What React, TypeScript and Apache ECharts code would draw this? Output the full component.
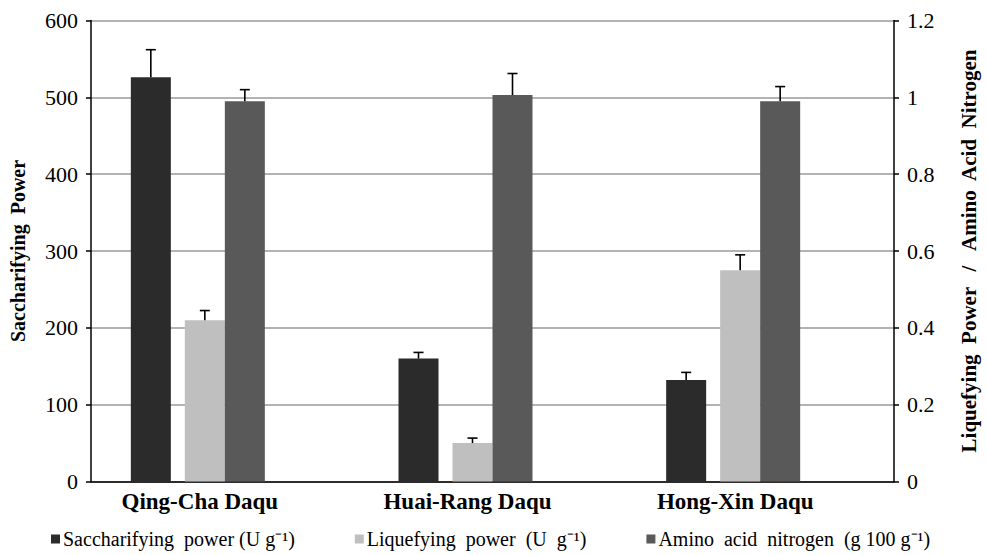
import React, { useEffect, useRef } from 'react';
import * as echarts from 'echarts';

const categories = ['Qing-Cha Daqu', 'Huai-Rang Daqu', 'Hong-Xin Daqu'];
const saccharifying = [526, 160, 132];
const saccharifyingErr = [36, 8, 10];
const liquefying = [0.42, 0.1, 0.55];
const liquefyingErr = [0.025, 0.013, 0.04];
const aminoN = [0.99, 1.006, 0.99];
const aminoNErr = [0.03, 0.056, 0.038];

const seriesNames = [
  'Saccharifying  power (U g⁻¹)',
  'Liquefying  power  (U  g⁻¹)',
  'Amino  acid  nitrogen  (g 100 g⁻¹)',
];

const FONT = 'Liberation Serif, serif';
const BAR_W = 40;
const GAP_PX = 108;
// horizontal offset of each bar centre from its category centre (px), derived from the bar layout
const OFF_SACCH = -(BAR_W / 2 + GAP_PX / 2);
const OFF_LIQ = -BAR_W / 2;
const OFF_AMINO = BAR_W / 2;

function errorSeries(values: number[], errs: number[], xi: number, yi: number, off: number) {
  return {
    type: 'custom',
    xAxisIndex: xi,
    yAxisIndex: yi,
    z: 5,
    silent: true,
    encode: { x: 0, y: 1 },
    data: values.map((v, i) => [i, v, errs[i]]),
    renderItem: (params: any, api: any) => {
      const i = api.value(0);
      const v = api.value(1);
      const e = api.value(2);
      const p0 = api.coord([i, v]);
      const p1 = api.coord([i, v + e]);
      const x = p0[0] + off;
      const style = { stroke: '#000', lineWidth: 1.6 };
      return {
        type: 'group',
        children: [
          { type: 'line', shape: { x1: x, y1: p0[1], x2: x, y2: p1[1] }, style },
          { type: 'line', shape: { x1: x - 5, y1: p1[1], x2: x + 5, y2: p1[1] }, style },
        ],
      };
    },
  };
}

export default function App() {
  const ref = useRef<HTMLDivElement>(null);
  useEffect(() => {
    document.body.style.margin = '0';
    if (!ref.current) return;
    const chart = echarts.init(ref.current, null, { renderer: 'svg' });
    const axisLine = { show: true, lineStyle: { color: '#000', width: 1.5 } };
    chart.setOption({
      animation: false,
      backgroundColor: '#fff',
      textStyle: { fontFamily: FONT, color: '#000' },
      grid: { left: 91, right: 78, top: 20.5, bottom: 73.5, containLabel: false },
      legend: {
        data: seriesNames,
        left: 46,
        top: 524,
        icon: 'rect',
        itemWidth: 9,
        itemHeight: 9,
        itemGap: 60,
        textStyle: { fontFamily: FONT, fontSize: 20, color: '#000', padding: [0, 0, 0, -2] },
      },
      xAxis: [
        {
          type: 'category',
          data: categories,
          axisLine,
          axisTick: { show: false },
          axisLabel: {
            fontFamily: FONT,
            fontSize: 23,
            fontWeight: 'bold',
            color: '#000',
            margin: 8,
            padding: [0, 50, 0, 0],
          },
        },
        { type: 'category', data: categories, show: false },
      ],
      yAxis: [
        {
          type: 'value',
          min: 0,
          max: 600,
          interval: 100,
          position: 'left',
          axisLine,
          axisTick: { show: true, length: 5, lineStyle: { color: '#000', width: 1.5 } },
          axisLabel: { fontFamily: FONT, fontSize: 22, color: '#000', margin: 13 },
          splitLine: { show: true, lineStyle: { color: '#9a9a9a', width: 1.5 } },
          name: 'Saccharifying  Power',
          nameLocation: 'middle',
          nameRotate: 90,
          nameGap: 63,
          nameTextStyle: { fontFamily: FONT, fontSize: 20, fontWeight: 'bold', color: '#000' },
        },
        {
          type: 'value',
          min: 0,
          max: 1.2,
          interval: 0.2,
          position: 'right',
          axisLine,
          axisTick: { show: true, length: 5, lineStyle: { color: '#000', width: 1.5 } },
          axisLabel: { fontFamily: FONT, fontSize: 22, color: '#000', margin: 13 },
          splitLine: { show: false },
          name: 'Liquefying  Power   /   Amino  Acid  Nitrogen',
          nameLocation: 'middle',
          nameRotate: 90,
          nameGap: 64,
          nameTextStyle: { fontFamily: FONT, fontSize: 21, fontWeight: 'bold', color: '#000' },
        },
      ],
      series: [
        {
          name: seriesNames[0],
          type: 'bar',
          xAxisIndex: 0,
          yAxisIndex: 0,
          barWidth: BAR_W,
          barGap: (GAP_PX / BAR_W) * 100 + '%',
          data: saccharifying,
          itemStyle: { color: '#2b2b2b' },
        },
        {
          name: 'spacer',
          type: 'bar',
          xAxisIndex: 0,
          yAxisIndex: 0,
          barWidth: BAR_W,
          data: categories.map(() => null),
          itemStyle: { color: 'transparent' },
        },
        {
          name: seriesNames[1],
          type: 'bar',
          xAxisIndex: 1,
          yAxisIndex: 1,
          barWidth: BAR_W,
          barGap: '0%',
          data: liquefying,
          itemStyle: { color: '#bfbfbf' },
        },
        {
          name: seriesNames[2],
          type: 'bar',
          xAxisIndex: 1,
          yAxisIndex: 1,
          barWidth: BAR_W,
          barGap: '0%',
          data: aminoN,
          itemStyle: { color: '#595959' },
        },
        errorSeries(saccharifying, saccharifyingErr, 0, 0, OFF_SACCH),
        errorSeries(liquefying, liquefyingErr, 1, 1, OFF_LIQ),
        errorSeries(aminoN, aminoNErr, 1, 1, OFF_AMINO),
      ],
    });
    return () => chart.dispose();
  }, []);
  return <div ref={ref} style={{ width: 987, height: 555 }} />;
}
